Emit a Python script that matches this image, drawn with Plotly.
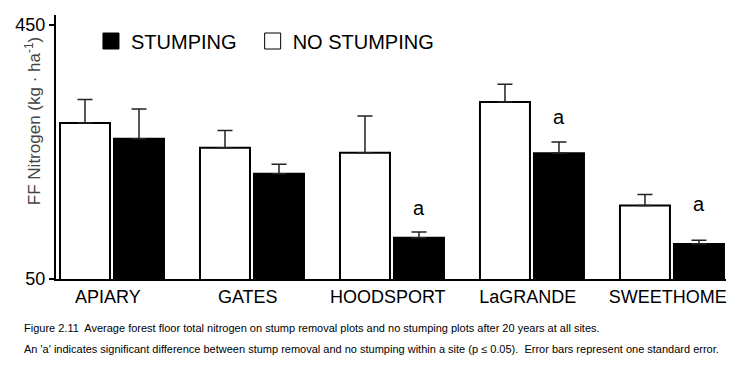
import plotly.graph_objects as go

# ---- data ----
sites = ["APIARY", "GATES", "HOODSPORT", "LaGRANDE", "SWEETHOME"]
no_stumping = [296, 257, 249, 329, 166]
no_stumping_se = [37, 27, 58, 28, 17]
stumping = [271, 216, 115, 248, 105]
stumping_se = [47, 15, 9, 18, 6]
sig_labels = ["", "", "a", "a", "a"]
sig_label_y = [None, None, 162, 305, 168]
y_ticks = [50, 450]

FONT = "Arial, Liberation Sans, sans-serif"
xpos = list(range(len(sites)))

fig = go.Figure()
fig.add_trace(go.Bar(
    x=xpos, y=no_stumping, name="NO STUMPING", showlegend=False,
    marker=dict(color="white", line=dict(color="black", width=2)),
    error_y=dict(type="data", symmetric=False, array=no_stumping_se,
                 arrayminus=[0] * len(sites), color="#222", thickness=1.5, width=7.5),
))
fig.add_trace(go.Bar(
    x=xpos, y=stumping, name="STUMPING", showlegend=False,
    marker=dict(color="black", line=dict(color="black", width=2)),
    error_y=dict(type="data", symmetric=False, array=stumping_se,
                 arrayminus=[0] * len(sites), color="#222", thickness=1.5, width=7.5),
))
# legend entries
fig.add_trace(go.Scatter(x=[None], y=[None], mode="markers", name="STUMPING\u00a0\u00a0",
                         marker=dict(symbol="square", size=16, color="black",
                                     line=dict(color="black", width=1))))
fig.add_trace(go.Scatter(x=[None], y=[None], mode="markers", name="NO STUMPING",
                         marker=dict(symbol="square", size=16, color="white",
                                     line=dict(color="black", width=1))))

annotations = []
for i, (lab, ly) in enumerate(zip(sig_labels, sig_label_y)):
    if lab:
        annotations.append(dict(x=i + 0.193, y=ly, xref="x", yref="y", text=lab,
                                xanchor="center", yanchor="middle",
                                showarrow=False, font=dict(family=FONT, size=20, color="black")))

annotations.append(dict(x=-0.0343, y=0.598, xref="paper", yref="paper",
                        xanchor="center", yanchor="middle",
                        text="FF Nitrogen (kg · ha<sup>-1</sup>)", textangle=-90,
                        showarrow=False, font=dict(family=FONT, size=17, color="#444")))
cap1 = "Figure 2.11  Average forest floor total nitrogen on stump removal plots and no stumping plots after 20 years at all sites."
cap2 = "An 'a' indicates significant difference between stump removal and no stumping within a site (p ≤ 0.05).  Error bars represent one standard error."
for txt, yy in [(cap1, -0.1856), (cap2, -0.2652)]:
    annotations.append(dict(x=-0.0507, y=yy, xref="paper", yref="paper", text=txt,
                            xanchor="left", yanchor="middle", showarrow=False,
                            font=dict(family=FONT, size=11, color="black")))

fig.update_layout(
    width=742, height=360,
    margin=dict(l=48, r=24, t=7, b=89),
    paper_bgcolor="white", plot_bgcolor="white",
    barmode="group", bargap=0.2286, bargroupgap=0.074,
    font=dict(family=FONT, color="black"),
    legend=dict(orientation="h", x=0.0522, y=0.9015, xanchor="left", yanchor="middle",
                font=dict(family=FONT, size=20, color="black"),
                bgcolor="rgba(0,0,0,0)", itemclick=False, itemdoubleclick=False),
    annotations=annotations,
    xaxis=dict(range=[-0.4, 4.386], tickvals=[i - 0.03 for i in xpos], ticktext=sites,
               showline=True, linecolor="black", linewidth=2, ticks="",
               showgrid=False, zeroline=False,
               tickfont=dict(family=FONT, size=18, color="black")),
    yaxis=dict(range=[50, 466], tickvals=y_ticks, ticktext=[str(v) for v in y_ticks],
               showline=True, linecolor="black", linewidth=2, ticks="outside",
               ticklen=5, tickwidth=1.5, tickcolor="black",
               showgrid=False, zeroline=False,
               tickfont=dict(family=FONT, size=18, color="black"),
               tickprefix="<b>", ticksuffix="</b>"),
)

fig.write_html("out.html")
